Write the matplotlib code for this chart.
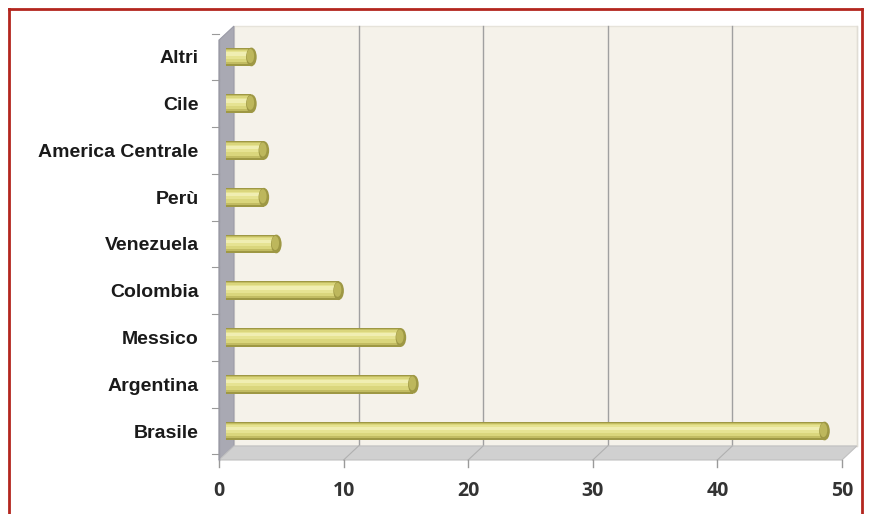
import matplotlib.pyplot as plt
import numpy as np
from matplotlib.patches import Polygon, Ellipse
from matplotlib.lines import Line2D

# data (share %)
countries = ["Brasile", "Argentina", "Messico", "Colombia", "Venezuela",
             "Perù", "America Centrale", "Cile", "Altri"]
values = [48, 15, 14, 9, 4, 3, 3, 2, 2]
xticks = [0, 10, 20, 30, 40, 50]

# pseudo-3D depth offsets (data units)
DX, DY = 1.2, 0.3
BAR_OFF = 0.6
FLOOR = -0.62
TOP = 8.36

plt.rcParams["font.family"] = ["Liberation Sans", "DejaVu Sans"]

fig = plt.figure(figsize=(8.7, 5.14), dpi=100)
fig.patch.set_facecolor("white")

# axes placed so x=0 -> 219px, x=50 -> 842px, Brasile -> 431px
ax = fig.add_axes([200 / 870, 44 / 514, 665 / 870, 450 / 514])
ax.set_xlim(-1.525, 51.85)
ax.set_ylim(-0.834, 8.79)
for s in ax.spines.values():
    s.set_visible(False)
ax.set_facecolor("none")

xmax = xticks[-1]

# back wall
ax.add_patch(Polygon([(DX, FLOOR + DY), (xmax + DX, FLOOR + DY),
                      (xmax + DX, TOP + DY), (DX, TOP + DY)],
                     closed=True, facecolor="#f5f2ea", edgecolor="#e6e3da",
                     lw=1, zorder=0))
# left wall
ax.add_patch(Polygon([(0, FLOOR), (0, TOP), (DX, TOP + DY), (DX, FLOOR + DY)],
                     closed=True, facecolor="#a9a9b3", edgecolor="#9a9aa6",
                     lw=0.8, zorder=1))
# floor
ax.add_patch(Polygon([(0, FLOOR), (xmax, FLOOR), (xmax + DX, FLOOR + DY),
                      (DX, FLOOR + DY)],
                     closed=True, facecolor="#d0d0d0", edgecolor="#c0c0c0",
                     lw=0.8, zorder=1))

# gridlines on back wall and floor
for v in xticks[1:-1]:
    ax.plot([v + DX, v + DX], [FLOOR + DY, TOP + DY], color="#a0a0a0",
            lw=1, zorder=0.5)
    ax.plot([v, v + DX], [FLOOR, FLOOR + DY], color="#b0b0b0", lw=0.8,
            zorder=1.5)
ax.plot([xmax + DX, xmax + DX], [FLOOR + DY, TOP + DY], color="#e0ddd5",
        lw=1, zorder=0.5)

# x tick marks
for v in xticks:
    ax.plot([v, v], [FLOOR, FLOOR - 0.15], color="#9a9a9a", lw=1, zorder=2)

# y tick marks beside the left wall
ypos = np.arange(len(countries))
for y in np.arange(-0.5, len(countries), 1.0):
    ax.plot([-0.6, 0], [y, y], color="#9a9a9a", lw=0.8, zorder=2)
ax.plot([0, 0], [FLOOR, TOP], color="#9a9aa4", lw=1, zorder=2)

# cylinder-like bars: stacked bands from dark rim to light highlight
bands = [(0.40, 0.00, "#9e9844"), (0.34, 0.01, "#c2bc62"),
         (0.27, 0.02, "#dad67c"), (0.16, 0.04, "#e6e392"),
         (0.07, 0.06, "#f0eeb2")]
for h, dy, c in bands:
    ax.barh(ypos + dy, values, left=BAR_OFF, height=h, color=c, zorder=3)
for y, v in zip(ypos, values):
    ax.add_patch(Ellipse((BAR_OFF + v, y), 0.85, 0.40, facecolor="#9e9844",
                         edgecolor="none", zorder=3.3))
    ax.add_patch(Ellipse((BAR_OFF + v - 0.08, y + 0.02), 0.6, 0.30,
                         facecolor="#bdb75c", edgecolor="none", zorder=3.4))

# labels
ax.set_yticks(ypos, countries, fontsize=14, fontweight="bold",
              color="#1a1a1a")
ax.tick_params(axis="y", length=0, pad=1)
ax.set_xticks(xticks, [str(v) for v in xticks], fontsize=14,
              fontweight="bold", color="#333333", fontfamily="Open Sans")
ax.tick_params(axis="x", length=0, pad=8)

# red frame (bottom edge runs off the picture)
frame = dict(color="#b3261e", lw=2, transform=fig.transFigure)
fig.add_artist(Line2D([9 / 870, 9 / 870], [0, 1 - 9 / 514], **frame))
fig.add_artist(Line2D([9 / 870, 862 / 870], [1 - 9 / 514, 1 - 9 / 514], **frame))
fig.add_artist(Line2D([862 / 870, 862 / 870], [1 - 9 / 514, 0], **frame))

fig.savefig("out.png", dpi=100)
